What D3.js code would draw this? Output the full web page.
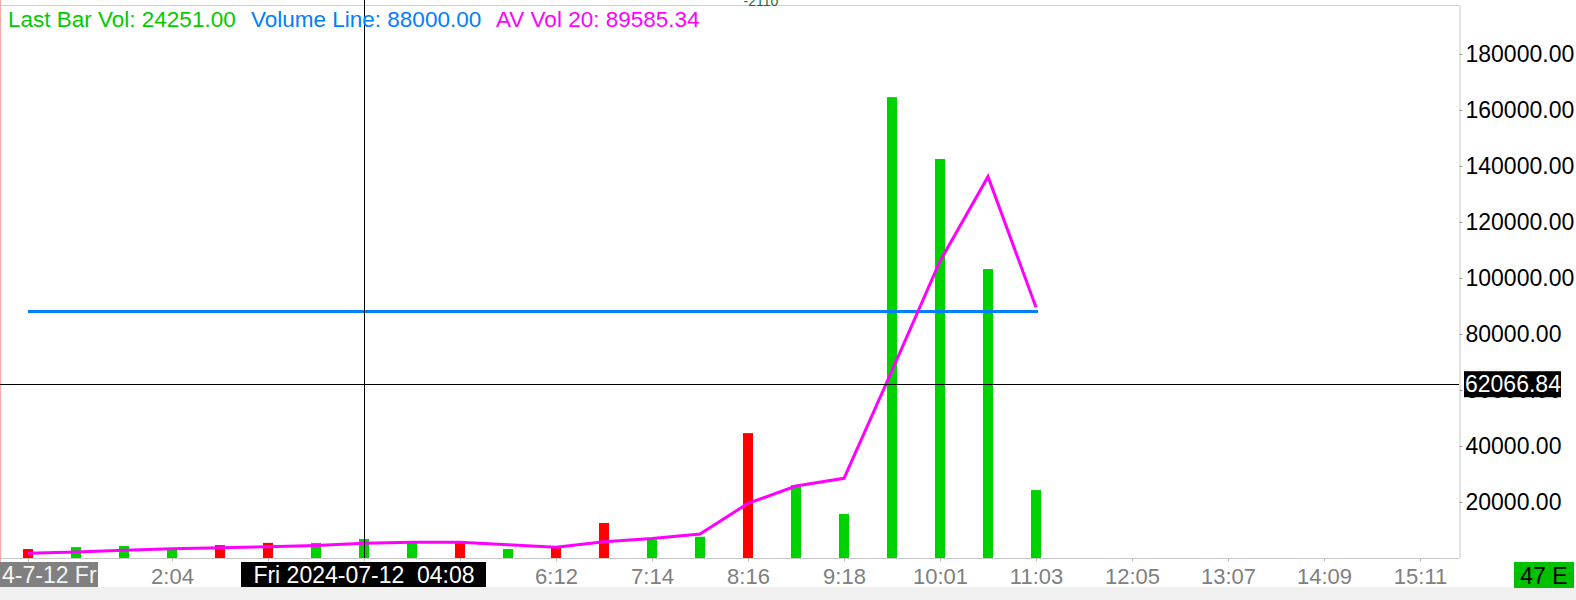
<!DOCTYPE html>
<html>
<head>
<meta charset="utf-8">
<script src="https://cdn.jsdelivr.net/npm/d3@7"></script>
<style>
  html, body { margin: 0; padding: 0; background: #ffffff; }
  body { width: 1576px; height: 600px; overflow: hidden; }
  text { font-family: "Liberation Sans", Arial, sans-serif; }
</style>
</head>
<body>
<div class="chart"></div>
<script>
// bar data, one value per bar
var barIdx = [0, 1, 2, 3, 4, 5, 6, 7, 8, 9, 10, 11, 12, 13, 14, 15, 16, 17, 18, 19, 20, 21];
var barVol = [3200, 3900, 4300, 3100, 4600, 5400, 5400, 6800, 5900, 5700, 3200, 3600,
              12500, 6700, 7600, 44600, 26100, 15700, 164600, 142500, 103200, 24251];
var barDir = ["down", "up", "up", "up", "down", "down", "up", "up", "up", "down", "up", "down",
              "down", "up", "up", "down", "up", "up", "up", "up", "up", "up"];
var avVol20 = [1700, 2150, 2750, 3330, 3700, 4050, 4500, 5250, 5600, 5600, 4760, 3800,
               5830, 7000, 8600, 19500, 25700, 28450, 66900, 106000, 136200, 89585.34];
var volumeLine = 88000;
var crossValue = 62066.84;
var crossIdx = 7;

// axis ticks
var tickIdx = [0, 3, 5, 7, 9, 11, 13, 15, 17, 19, 21, 23, 25, 27, 29];
var tickLabels = ["", "2:04", "", "", "", "6:12", "7:14", "8:16", "9:18", "10:01", "11:03",
                  "12:05", "13:07", "14:09", "15:11"];
var yTicks = [20000, 40000, 60000, 80000, 100000, 120000, 140000, 160000, 180000];
var dateLabel = "4-7-12 Fr";
var crossTimeLabel = "Fri 2024-07-12  04:08";
var cornerLabel = "47 E";
var topLabel = "-2110";

var legend = [
  { text: "Last Bar Vol: 24251.00", color: "#00cc00" },
  { text: "Volume Line: 88000.00", color: "#0080ff" },
  { text: "AV Vol 20: 89585.34", color: "#ff00ff" }
];

var svgWidth = 1576;
var svgHeight = 600;
var plotRight = 1459;
var plotTop = 5;
var plotBottom = 558;

var svg = d3.select(".chart")
  .append("svg")
  .attr("width", svgWidth)
  .attr("height", svgHeight);

// bottom strip
svg.append("rect")
  .attr("x", 0).attr("y", 587)
  .attr("width", svgWidth).attr("height", svgHeight - 587)
  .attr("fill", "#f0f0f0");

// scales
var x = d3.scaleLinear().domain([0, 29]).range([28, 1420]);
var y = d3.scaleLinear().domain([0, 197500]).range([plotBottom, plotTop]);
var color = d3.scaleOrdinal().domain(["up", "down"]).range(["#00d200", "#ff0000"]);

// frame lines
svg.append("line")
  .attr("x1", 0).attr("x2", plotRight)
  .attr("y1", plotTop + 0.5).attr("y2", plotTop + 0.5)
  .attr("stroke", "#d0d0d0");
svg.append("line")
  .attr("x1", 0).attr("x2", plotRight)
  .attr("y1", plotBottom + 0.5).attr("y2", plotBottom + 0.5)
  .attr("stroke", "#c8c8c8");
svg.append("line")
  .attr("x1", 0.5).attr("x2", 0.5)
  .attr("y1", 0).attr("y2", 587)
  .attr("stroke", "#ffa8a8");

// top cut off label
svg.append("text")
  .attr("x", 761).attr("y", 6)
  .attr("text-anchor", "middle")
  .style("font-size", "14px")
  .style("fill", "#1b6b3a")
  .text(topLabel);

// bars
svg.selectAll(".bar")
  .data(barIdx)
  .enter()
  .append("rect")
  .attr("class", "bar")
  .attr("x", i => x(i) - 5)
  .attr("width", 10)
  .attr("y", i => y(barVol[i]))
  .attr("height", i => y(0) - y(barVol[i]))
  .attr("fill", i => color(barDir[i]));

// volume line
svg.append("line")
  .attr("x1", x(0)).attr("x2", x(barIdx.length - 1) + 2)
  .attr("y1", y(volumeLine)).attr("y2", y(volumeLine))
  .attr("stroke", "#0080ff")
  .attr("stroke-width", 3);

// average volume line
var avLine = d3.line()
  .x(i => x(i))
  .y(i => y(avVol20[i]));
svg.append("path")
  .datum(barIdx)
  .attr("d", avLine)
  .attr("fill", "none")
  .attr("stroke", "#ff00ff")
  .attr("stroke-width", 3)
  .attr("stroke-linejoin", "miter");

// crosshair
svg.append("line")
  .attr("x1", Math.round(x(crossIdx)) + 0.5).attr("x2", Math.round(x(crossIdx)) + 0.5)
  .attr("y1", 0).attr("y2", plotBottom)
  .attr("stroke", "#000");
svg.append("line")
  .attr("x1", 0).attr("x2", plotRight)
  .attr("y1", Math.round(y(crossValue)) + 0.5).attr("y2", Math.round(y(crossValue)) + 0.5)
  .attr("stroke", "#000");

// y axis on the right
var rightAxis = d3.axisRight(y)
  .tickValues(yTicks)
  .tickFormat(d => d.toFixed(2))
  .tickSize(3)
  .tickSizeOuter(0)
  .tickPadding(3);
var yAxisG = svg.append("g")
  .attr("transform", `translate(${plotRight + 0.5}, 0)`)
  .call(rightAxis);
yAxisG.select(".domain").attr("stroke", "#c8c8c8");
yAxisG.selectAll(".tick line").attr("stroke", "#999");
yAxisG.selectAll(".tick text")
  .style("font-size", "23px")
  .style("font-family", "'Liberation Sans', Arial, sans-serif")
  .attr("fill", "#000");

// x axis
var bottomAxis = d3.axisBottom(x)
  .tickValues(tickIdx)
  .tickFormat((d, i) => tickLabels[i])
  .tickSize(3)
  .tickSizeOuter(0);
var xAxisG = svg.append("g")
  .attr("transform", `translate(0, ${plotBottom + 0.5})`)
  .call(bottomAxis);
xAxisG.select(".domain").remove();
xAxisG.selectAll(".tick line").attr("stroke", "#c0c0c0");
xAxisG.selectAll(".tick text")
  .attr("y", 25)
  .attr("dy", 0)
  .style("font-size", "22px")
  .style("font-family", "'Liberation Sans', Arial, sans-serif")
  .attr("fill", "#808080");

// date box at the left
svg.append("rect")
  .attr("x", 0).attr("y", 562)
  .attr("width", 98).attr("height", 25)
  .attr("fill", "#808080");
svg.append("text")
  .attr("x", 2).attr("y", 583)
  .style("font-size", "23px")
  .style("fill", "#f4f4f4")
  .text(dateLabel);

// crosshair time box
svg.append("rect")
  .attr("x", x(crossIdx) - 123).attr("y", 562)
  .attr("width", 245).attr("height", 25)
  .attr("fill", "#000");
svg.append("text")
  .attr("x", x(crossIdx)).attr("y", 583)
  .attr("text-anchor", "middle")
  .style("font-size", "23px")
  .style("white-space", "pre")
  .style("fill", "#fff")
  .text(crossTimeLabel);

// crosshair value box
svg.append("rect")
  .attr("x", 1464).attr("y", y(crossValue) - 13)
  .attr("width", 97).attr("height", 26)
  .attr("fill", "#000");
svg.append("text")
  .attr("x", 1465).attr("y", y(crossValue) + 8)
  .style("font-size", "23px")
  .style("fill", "#fff")
  .text(crossValue.toFixed(2));

// corner box
svg.append("rect")
  .attr("x", 1514).attr("y", 562)
  .attr("width", 60).attr("height", 26)
  .attr("fill", "#00c000");
svg.append("text")
  .attr("x", 1544).attr("y", 584)
  .attr("text-anchor", "middle")
  .style("font-size", "23px")
  .style("fill", "#000")
  .text(cornerLabel);

// legend
var legendX = [8, 251, 496];
svg.selectAll(".legend")
  .data(legend)
  .enter()
  .append("text")
  .attr("class", "legend")
  .attr("x", (d, i) => legendX[i])
  .attr("y", 27)
  .style("font-size", "22.5px")
  .style("fill", d => d.color)
  .text(d => d.text);
</script>
</body>
</html>
